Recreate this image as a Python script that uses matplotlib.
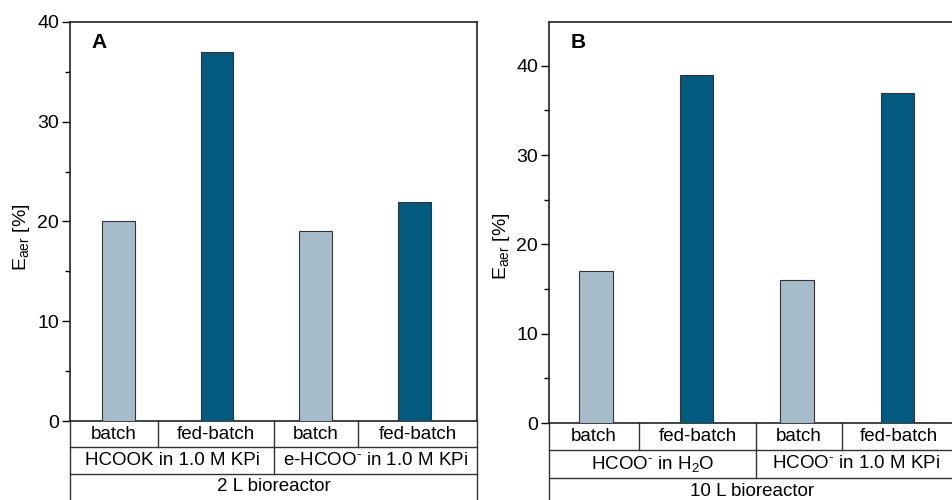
import matplotlib
matplotlib.use("Agg")
import matplotlib.pyplot as plt
import numpy as np

plt.rcParams['font.family'] = ['Liberation Sans', 'DejaVu Sans']
plt.rcParams['mathtext.fontset'] = 'custom'
plt.rcParams['mathtext.rm'] = 'Liberation Sans'
plt.rcParams['mathtext.default'] = 'regular'

# data
modes = ["batch", "fed-batch", "batch", "fed-batch"]
vals_a = [20, 37, 19, 22]
vals_b = [17, 39, 16, 37]
media_a = ["HCOOK in 1.0 M KPi", r"e-HCOO$^{\text{-}}$ in 1.0 M KPi"]
media_b = [r"HCOO$^{\text{-}}$ in H$_2$O", r"HCOO$^{\text{-}}$ in 1.0 M KPi"]
reactor_a = "2 L bioreactor"
reactor_b = "10 L bioreactor"

light = '#a7bccb'
dark = '#035a7e'
edge = '#333333'
colors = [light, dark, light, dark]

fig = plt.figure(figsize=(9.52, 5.0), dpi=100)
ax1 = fig.add_axes([70/952, 1-421/500, 407/952, 399/500])
ax2 = fig.add_axes([549/952, 1-423/500, 407/952, 401/500])

fs = 13.5


def panel(ax, vals, media, reactor, letter, xlim, ylim, divs, label_pos, row_h):
    x = np.arange(len(vals))
    ax.bar(x, vals, width=0.33, color=colors, edgecolor=edge, linewidth=0.8, zorder=3)
    ax.set_xlim(*xlim)
    ax.set_ylim(*ylim)
    ax.set_yticks([0, 10, 20, 30, 40])
    ax.set_yticks([5, 15, 25, 35], minor=True)
    ax.tick_params(axis='y', which='major', direction='out', length=6, width=1,
                   labelsize=14, pad=2)
    ax.tick_params(axis='y', which='minor', direction='out', length=3.5, width=1)
    ax.set_xticks([])
    for s in ax.spines.values():
        s.set_linewidth(1.2)
        s.set_color('#222222')
    ax.set_ylabel('E$_{aer}$ [%]', fontsize=14)
    ax.yaxis.set_label_coords(*label_pos)
    ax.text(0.052, 0.972, letter, transform=ax.transAxes, fontsize=15,
            fontweight='bold', va='top', ha='left')

    tr = ax.get_xaxis_transform()
    lk = dict(transform=tr, clip_on=False, color='#333333', lw=1.0)
    r1, r2, r3 = -row_h, -2*row_h, -3.2*row_h
    # horizontal lines
    ax.plot(xlim, [r1, r1], **lk)
    ax.plot(xlim, [r2, r2], **lk)
    # outer verticals
    ax.plot([xlim[0], xlim[0]], [0, r3], **lk)
    ax.plot([xlim[1], xlim[1]], [0, r3], **lk)
    # row 1 dividers
    for d in divs:
        ax.plot([d, d], [0, r1], **lk)
    # row 2 divider
    ax.plot([divs[1], divs[1]], [r1, r2], **lk)

    edges = [xlim[0]] + list(divs) + [xlim[1]]
    for i, m in enumerate(modes):
        ax.text((edges[i]+edges[i+1])/2, r1/2, m, transform=tr, ha='center',
                va='center', fontsize=fs)
    ax.text((xlim[0]+divs[1])/2, (r1+r2)/2, media[0], transform=tr,
            ha='center', va='center', fontsize=fs)
    ax.text((divs[1]+xlim[1])/2, (r1+r2)/2, media[1], transform=tr,
            ha='center', va='center', fontsize=fs)
    ax.text((xlim[0]+xlim[1])/2, r2 - 0.5*row_h, reactor, transform=tr,
            ha='center', va='center', fontsize=fs)


panel(ax1, vals_a, media_a, reactor_a, 'A', (-0.49, 3.636), (0, 40),
      [0.40, 1.577, 2.43], (-0.093, 0.46), 0.066)
panel(ax2, vals_b, media_b, reactor_b, 'B', (-0.468, 3.582), (0, 44.9),
      [0.428, 1.592, 2.448], (-0.091, 0.44), 0.068)

fig.savefig('out.png', dpi=100)
